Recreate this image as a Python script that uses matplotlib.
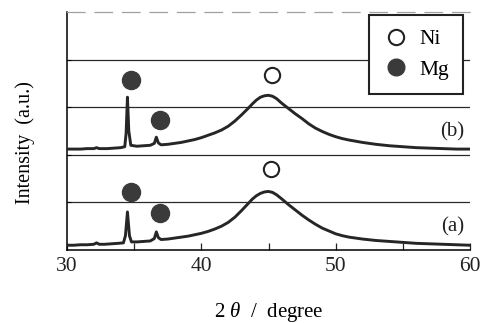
import matplotlib
matplotlib.use("Agg")
import matplotlib.pyplot as plt
from matplotlib.lines import Line2D

plt.rcParams['font.family'] = ['Liberation Serif', 'DejaVu Serif']
plt.rcParams['mathtext.fontset'] = 'custom'
plt.rcParams['mathtext.it'] = 'Liberation Serif:italic'
plt.rcParams['mathtext.rm'] = 'Liberation Serif'

# ---- data ----
two_theta_a = [30.0, 30.5, 31.0, 31.5, 32.0, 32.2, 32.4, 32.8, 33.3, 33.8, 34.2, 34.35, 34.5, 34.65, 34.8,
               35.2, 35.7, 36.2, 36.5, 36.65, 36.8, 37.0, 37.5, 38.0, 38.5, 39.0, 39.5, 40.0, 40.5, 41.0,
               41.5, 42.0, 42.5, 43.0, 43.5, 43.8, 44.1, 44.4, 44.7, 45.0, 45.3, 45.6, 46.0, 46.5, 47.0,
               47.5, 48.0, 48.5, 49.0, 49.5, 50.0, 50.5, 51.0, 52.0, 53.0, 54.0, 55.0, 56.0, 57.0, 58.0,
               59.0, 60.0]
intensity_a = [0.10, 0.10, 0.11, 0.11, 0.12, 0.15, 0.12, 0.12, 0.13, 0.14, 0.15, 0.30, 0.80, 0.30, 0.17,
               0.17, 0.18, 0.19, 0.24, 0.38, 0.26, 0.22, 0.23, 0.25, 0.27, 0.29, 0.32, 0.35, 0.39, 0.44,
               0.50, 0.58, 0.69, 0.83, 0.98, 1.07, 1.14, 1.19, 1.22, 1.23, 1.21, 1.16, 1.07, 0.95, 0.84,
               0.73, 0.63, 0.54, 0.46, 0.40, 0.34, 0.30, 0.27, 0.23, 0.20, 0.18, 0.16, 0.14, 0.13, 0.12,
               0.11, 0.10]

two_theta_b = [30.0, 30.5, 31.0, 31.5, 32.0, 32.2, 32.4, 33.0, 33.5, 34.0, 34.3, 34.4, 34.5, 34.6, 34.75,
               35.2, 35.7, 36.2, 36.5, 36.65, 36.8, 37.0, 37.5, 38.0, 38.5, 39.0, 39.5, 40.0, 40.5, 41.0,
               41.5, 42.0, 42.5, 43.0, 43.5, 43.8, 44.1, 44.4, 44.7, 45.0, 45.3, 45.6, 46.0, 46.5, 47.0,
               47.5, 48.0, 48.5, 49.0, 49.5, 50.0, 50.5, 51.0, 52.0, 53.0, 54.0, 55.0, 56.0, 57.0, 58.0,
               59.0, 60.0]
intensity_b = [2.12, 2.12, 2.12, 2.13, 2.13, 2.15, 2.13, 2.13, 2.14, 2.15, 2.17, 2.45, 3.21, 2.50, 2.20,
               2.18, 2.19, 2.20, 2.24, 2.37, 2.25, 2.21, 2.22, 2.24, 2.26, 2.29, 2.32, 2.36, 2.41, 2.46,
               2.52, 2.60, 2.71, 2.84, 2.98, 3.07, 3.15, 3.21, 3.24, 3.25, 3.23, 3.18, 3.08, 2.97, 2.86,
               2.76, 2.65, 2.56, 2.49, 2.43, 2.38, 2.34, 2.31, 2.26, 2.22, 2.19, 2.17, 2.15, 2.14, 2.13,
               2.12, 2.12]

mg_marker_x_a = [34.75, 36.9]
mg_marker_y_a = [1.22, 0.78]
ni_marker_x_a = [45.2]
ni_marker_y_a = [1.70]
mg_marker_x_b = [34.8, 36.95]
mg_marker_y_b = [3.57, 2.73]
ni_marker_x_b = [45.25]
ni_marker_y_b = [3.68]

sample_labels = ['(a)', '(b)']
sample_label_y = [0.48, 2.48]
legend_labels = ['Ni', 'Mg']
x_ticks = [30, 40, 50, 60]
x_minor = [35, 45, 55]
grid_levels = [1, 2, 3, 4]

# ---- figure ----
fig = plt.figure(figsize=(4.89, 3.23), dpi=100)
ax = fig.add_axes([67/489, 1-250/323, 403/489, 238/323])
ax.set_xlim(30, 60)
ax.set_ylim(0, 5)

for g in grid_levels:
    ax.axhline(g, color='#2a2a2a', lw=0.9, zorder=1)

trace_col = '#262626'
ax.plot(two_theta_a, intensity_a, color=trace_col, lw=2.1, zorder=3, solid_joinstyle='round')
ax.plot(two_theta_b, intensity_b, color=trace_col, lw=2.1, zorder=3, solid_joinstyle='round')

mg_kw = dict(ls='none', marker='o', ms=13, mfc='#3a3a3a', mec='#3a3a3a', zorder=4)
ni_kw = dict(ls='none', marker='o', ms=11, mfc='white', mec='#222222', mew=1.5, zorder=4)
ax.plot(mg_marker_x_a, mg_marker_y_a, **mg_kw)
ax.plot(mg_marker_x_b, mg_marker_y_b, **mg_kw)
ax.plot(ni_marker_x_a, ni_marker_y_a, **ni_kw)
ax.plot(ni_marker_x_b, ni_marker_y_b, **ni_kw)

for lab, yy in zip(sample_labels, sample_label_y):
    ax.text(59.6, yy, lab, ha='right', va='center', fontsize=15, color='#222222')

ax.set_xticks(x_ticks)
ax.set_xticks(x_minor, minor=True)
ax.set_xticklabels([str(t) for t in x_ticks])
ax.tick_params(axis='x', which='both', direction='in', length=5, width=0.9, labelsize=15.5, pad=5,
               colors='#222222')
ax.set_yticks(grid_levels)
ax.set_yticklabels([])
ax.tick_params(axis='y', direction='in', length=3, width=0.8)

ax.spines['right'].set_visible(False)
ax.spines['top'].set_color('#a0a0a0')
ax.spines['top'].set_linestyle((0, (14, 8)))
ax.spines['top'].set_linewidth(0.9)
ax.spines['left'].set_linewidth(1.1)
ax.spines['bottom'].set_linewidth(1.1)

handles = [Line2D([], [], **{**ni_kw, 'ms': 11}), Line2D([], [], **{**mg_kw, 'ms': 12})]
leg = ax.legend(handles, legend_labels, loc='upper right', bbox_to_anchor=(0.983, 0.987),
                borderaxespad=0, fontsize=15.5, frameon=True, fancybox=False, framealpha=1,
                edgecolor='#222222', handletextpad=0.5, labelspacing=0.5, borderpad=0.65,
                handlelength=1.2)
leg.get_frame().set_linewidth(1.5)

fig.text(269/489, 1-312/323, '2 $\\theta$  /  degree', ha='center', va='center', fontsize=15)
fig.text(25/489, 1-143/323, 'Intensity  (a.u.)', ha='center', va='center', rotation=90, fontsize=14.5)

fig.savefig('out.png', dpi=100)
